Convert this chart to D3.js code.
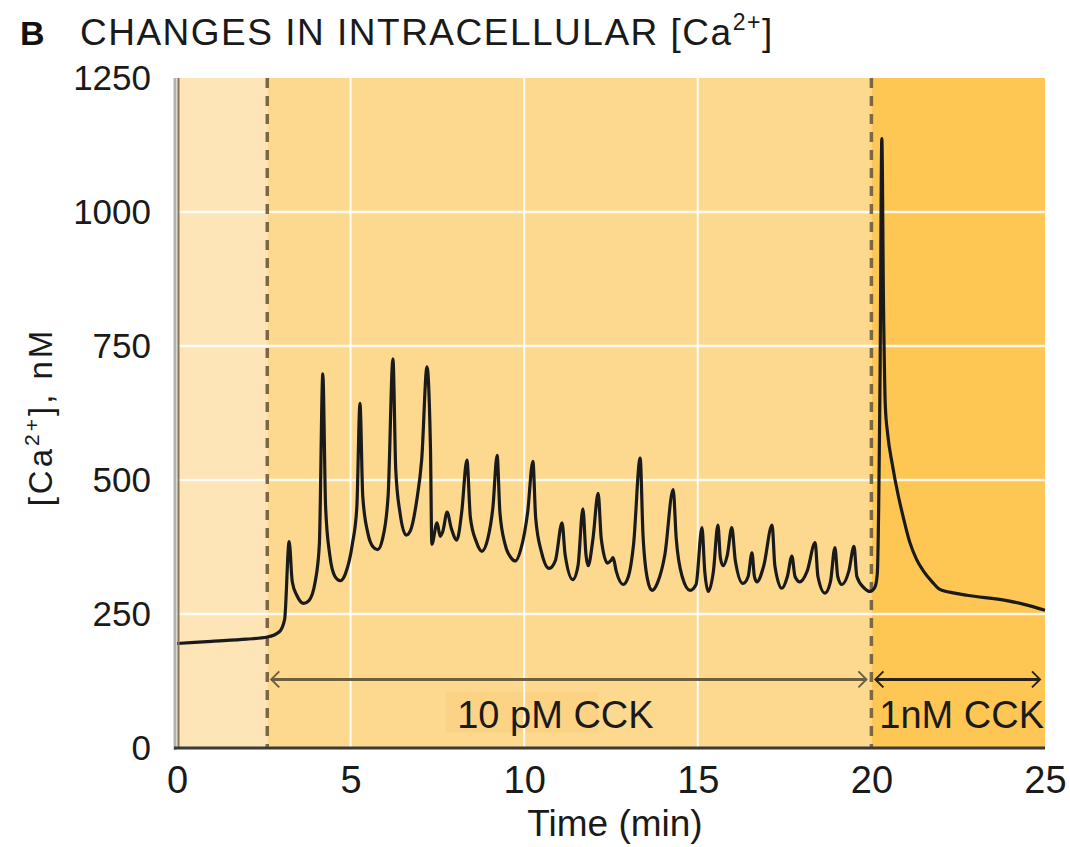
<!DOCTYPE html>
<html>
<head>
<meta charset="utf-8">
<script src="https://cdn.jsdelivr.net/npm/d3@7"></script>
<style>
  html, body { margin: 0; padding: 0; background: #ffffff; }
  svg { display: block; font-family: "Liberation Sans", Arial, sans-serif; }
</style>
</head>
<body>
<svg id="chart" width="1070" height="847"></svg>
<script>
// ---- data ----
const timeMin = [0, 1.0, 2.0, 2.6, 2.95, 3.1, 3.23, 3.32, 3.45, 3.65, 3.8, 3.98, 4.1, 4.2, 4.28, 4.4, 4.55, 4.7, 4.85, 5.05, 5.18, 5.27, 5.35, 5.5, 5.65, 5.78, 5.92, 6.08, 6.22, 6.3, 6.42, 6.6, 6.72, 6.9, 7.05, 7.2, 7.3, 7.34, 7.49, 7.58, 7.66, 7.78, 7.9, 8.06, 8.2, 8.35, 8.45, 8.62, 8.78, 8.95, 9.1, 9.22, 9.3, 9.45, 9.62, 9.75, 9.9, 10.1, 10.25, 10.33, 10.5, 10.72, 10.9, 11.09, 11.18, 11.4, 11.55, 11.69, 11.78, 11.84, 11.98, 12.13, 12.22, 12.4, 12.5, 12.56, 12.65, 12.85, 13.0, 13.15, 13.34, 13.42, 13.55, 13.68, 13.85, 14.05, 14.29, 14.38, 14.55, 14.78, 14.95, 15.12, 15.2, 15.3, 15.45, 15.58, 15.65, 15.73, 15.85, 15.98, 16.08, 16.3, 16.45, 16.56, 16.63, 16.7, 16.9, 17.14, 17.22, 17.42, 17.58, 17.71, 17.8, 17.94, 18.15, 18.38, 18.46, 18.66, 18.82, 18.95, 19.03, 19.15, 19.35, 19.5, 19.58, 19.8, 19.96, 20.1, 20.17, 20.25, 20.3, 20.35, 20.4, 20.47, 20.6, 20.77, 20.92, 21.1, 21.3, 21.5, 21.75, 21.97, 22.4, 22.75, 23.9, 24.4, 25.0];
const caNM = [195, 199, 203, 207, 217, 240, 385, 310, 285, 270, 275, 310, 380, 698, 450, 360, 320, 312, 325, 380, 450, 643, 470, 400, 375, 370, 390, 470, 726, 520, 440, 397, 405, 460, 540, 711, 560, 380, 420, 395, 405, 440, 410, 388, 440, 537, 430, 385, 367, 390, 450, 546, 440, 380, 355, 349, 370, 440, 535, 430, 365, 335, 350, 420, 360, 314, 340, 446, 360, 340, 390, 475, 390, 345, 350, 355, 330, 305, 320, 380, 541, 400, 315, 294, 310, 360, 482, 390, 320, 294, 305, 411, 330, 292, 330, 416, 355, 340, 360, 411, 350, 307, 320, 364, 320, 310, 340, 416, 340, 298, 320, 358, 320, 310, 330, 383, 320, 289, 310, 374, 320, 305, 330, 376, 320, 298, 292, 300, 325, 700, 1137, 820, 640, 585, 530, 472, 430, 385, 352, 330, 310, 296, 289, 285, 275, 268, 257];

const xTicks = [0, 5, 10, 15, 20, 25];
const yTicks = [0, 250, 500, 750, 1000, 1250];
const gridX = [5, 10, 15];
const gridY = [250, 500, 750, 1000];

const phaseStarts = [0, 2.6, 20];
const phaseEnds = [2.6, 20, 25];
const phaseColors = ["#FEE5B8", "#FDD98F", "#FEC753"];
const markerTimes = [2.6, 20];

const arrowStarts = [2.6, 20];
const arrowEnds = [20, 25];
const arrowLabels = ["10 pM CCK", "1nM CCK"];
const arrowLabelX = [10.9, 22.6];
const arrowColors = ["#6e5f40", "#2a2218"];

// ---- layout ----
const svg = d3.select("#chart");
const x = d3.scaleLinear().domain([0, 25]).range([177, 1045]);
const y = d3.scaleLinear().domain([0, 1250]).range([748, 78]);

// backgrounds
svg.selectAll("rect.phase")
  .data(phaseStarts)
  .enter().append("rect")
  .attr("class", "phase")
  .attr("x", (d) => x(d))
  .attr("y", y(1250))
  .attr("width", (d, i) => x(phaseEnds[i]) - x(d))
  .attr("height", y(0) - y(1250))
  .attr("fill", (d, i) => phaseColors[i]);

// label box behind 10 pM CCK
svg.append("rect")
  .attr("x", x(arrowLabelX[0]) - 110)
  .attr("y", y(105))
  .attr("width", 153)
  .attr("height", 41)
  .attr("fill", "#FCD385");

// grid
svg.selectAll("line.gy")
  .data(gridY)
  .enter().append("line")
  .attr("x1", x(0)).attr("x2", x(25))
  .attr("y1", (d) => y(d)).attr("y2", (d) => y(d))
  .attr("stroke", "#ffffff").attr("stroke-opacity", 0.85).attr("stroke-width", 2.5);

svg.selectAll("line.gx")
  .data(gridX)
  .enter().append("line")
  .attr("x1", (d) => x(d)).attr("x2", (d) => x(d))
  .attr("y1", y(1250)).attr("y2", y(0))
  .attr("stroke", "#ffffff").attr("stroke-opacity", 0.9).attr("stroke-width", 2);

// dashed marker lines
svg.selectAll("line.mk")
  .data(markerTimes)
  .enter().append("line")
  .attr("x1", (d) => x(d)).attr("x2", (d) => x(d))
  .attr("y1", y(1250)).attr("y2", y(0))
  .attr("stroke", "#7b6843").attr("stroke-width", 3.5)
  .attr("stroke-dasharray", "10,8");

// arrows
const arrowY = y(128);
arrowStarts.forEach((s, i) => {
  const x1 = x(s) + 4, x2 = x(arrowEnds[i]) - 5;
  const c = arrowColors[i];
  svg.append("line")
    .attr("x1", x1).attr("x2", x2).attr("y1", arrowY).attr("y2", arrowY)
    .attr("stroke", c).attr("stroke-width", 3);
  svg.append("path")
    .attr("d", `M${x1 + 8},${arrowY - 8} L${x1},${arrowY} L${x1 + 8},${arrowY + 8}`)
    .attr("fill", "none").attr("stroke", c).attr("stroke-width", 2);
  svg.append("path")
    .attr("d", `M${x2 - 8},${arrowY - 8} L${x2},${arrowY} L${x2 - 8},${arrowY + 8}`)
    .attr("fill", "none").attr("stroke", c).attr("stroke-width", 2);
  svg.append("text")
    .attr("x", x(arrowLabelX[i]))
    .attr("y", y(37))
    .attr("text-anchor", "middle")
    .attr("font-size", 38)
    .attr("fill", "#1a1a1a")
    .text(arrowLabels[i]);
});

// trace
const pts = timeMin.map((t, i) => [t, caNM[i]]);
const line = d3.line().x((d) => x(d[0])).y((d) => y(d[1])).curve(d3.curveMonotoneX);
svg.append("path")
  .datum(pts)
  .attr("d", line)
  .attr("fill", "none")
  .attr("stroke", "#1a1a1a")
  .attr("stroke-width", 3.2)
  .attr("stroke-linejoin", "round");

// axes lines
svg.append("line")
  .attr("x1", x(0) - 2).attr("x2", x(0) - 2)
  .attr("y1", y(1250)).attr("y2", y(0) + 2)
  .attr("stroke", "#b1b1b1").attr("stroke-width", 3);
svg.append("line")
  .attr("x1", x(0) + 1.5).attr("x2", x(0) + 1.5)
  .attr("y1", y(1250)).attr("y2", y(0))
  .attr("stroke", "#8a7452").attr("stroke-width", 2);
svg.append("line")
  .attr("x1", x(0) - 3).attr("x2", x(25))
  .attr("y1", y(0)).attr("y2", y(0))
  .attr("stroke", "#3a3a3a").attr("stroke-width", 3);

// axes (labels only)
const yAxis = d3.axisLeft(y).tickValues(yTicks).tickFormat(d3.format("d")).tickSize(0).tickPadding(0);
const gy = svg.append("g").attr("transform", "translate(151,0)").call(yAxis);
gy.select(".domain").remove();
gy.selectAll("text").attr("font-size", 35).attr("fill", "#1a1a1a")
  .attr("font-family", "Liberation Sans, Arial, sans-serif");

const xAxis = d3.axisBottom(x).tickValues(xTicks).tickFormat(d3.format("d")).tickSize(0).tickPadding(0);
const gx = svg.append("g").attr("transform", "translate(0,766)").call(xAxis);
gx.select(".domain").remove();
gx.selectAll("text").attr("font-size", 38).attr("fill", "#1a1a1a")
  .attr("font-family", "Liberation Sans, Arial, sans-serif");

// axis titles
svg.append("text")
  .attr("x", x(12.5) + 4).attr("y", 836)
  .attr("text-anchor", "middle")
  .attr("font-size", 37).attr("fill", "#1a1a1a")
  .text("Time (min)");

const yt = svg.append("text")
  .attr("transform", `translate(52,${y(625) + 4}) rotate(-90)`)
  .attr("text-anchor", "middle")
  .attr("font-size", 33).attr("letter-spacing", 3).attr("fill", "#1a1a1a");
yt.append("tspan").text("[Ca");
yt.append("tspan").attr("font-size", 21).attr("dy", -13).text("2+");
yt.append("tspan").attr("dy", 13).text("], nM");

// title
svg.append("text")
  .attr("x", 20).attr("y", 45)
  .attr("font-size", 34).attr("font-weight", "bold").attr("fill", "#111")
  .text("B");
const tt = svg.append("text")
  .attr("x", 80).attr("y", 45)
  .attr("font-size", 37).attr("letter-spacing", 1.5).attr("fill", "#1a1a1a");
tt.append("tspan").text("CHANGES IN INTRACELLULAR [Ca");
tt.append("tspan").attr("font-size", 23).attr("dy", -15).text("2+");
tt.append("tspan").attr("dy", 15).text("]");
</script>
</body>
</html>
